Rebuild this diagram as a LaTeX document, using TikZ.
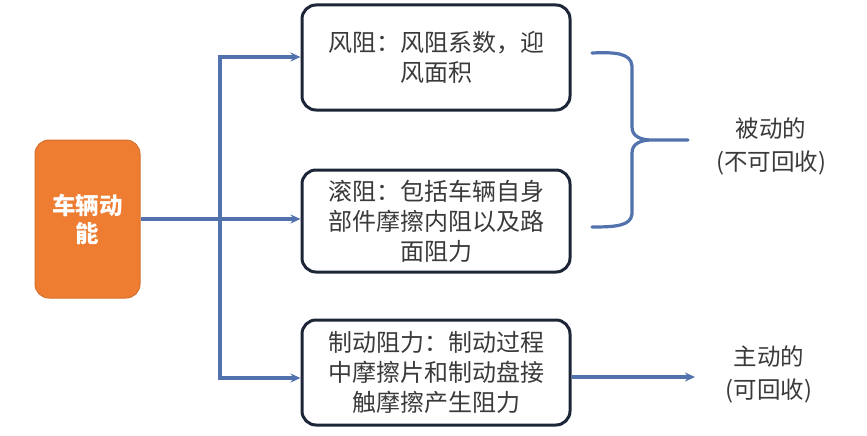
\documentclass[tikz,border=0pt]{standalone}
\usepackage{fontspec}
\setmainfont{Noto Sans CJK SC}
\usetikzlibrary{arrows.meta}
\definecolor{lineblue}{HTML}{5272AE}
\definecolor{boxorange}{HTML}{EE7D32}
\definecolor{navy}{HTML}{1C2638}
\definecolor{txt}{HTML}{3A3A3A}
\begin{document}
\begin{tikzpicture}[x=1pt,y=-1pt,
  srcbox/.style={draw=boxorange!90!black, line width=1pt, fill=boxorange, rounded corners=14pt, minimum width=105pt, minimum height=158pt, inner sep=0pt, align=center, text=white, font=\fontsize{23.5}{28}\selectfont\bfseries},
  resbox/.style={draw=navy, line width=3pt, rounded corners=14pt, minimum width=268pt, inner sep=0pt, align=center, text=txt, font=\fontsize{24}{30}\selectfont},
  conn/.style={draw=lineblue, line width=3.2pt},
  arr/.style={conn, -{Stealth[length=10pt,width=9pt]}},
  lbl/.style={align=center, text=txt, font=\fontsize{23.5}{33}\selectfont}]
\useasboundingbox (0,0) rectangle (867,436);
\node[srcbox] (src) at (87.5,219) {车辆动\\能};
\node[resbox, minimum height=105pt] (b1) at (436,57.5) {风阻：风阻系数，迎\\风面积};
\node[resbox, minimum height=102pt] (b2) at (436,221) {滚阻：包括车辆自身\\部件摩擦内阻以及路\\面阻力};
\node[resbox, minimum height=105pt] (b3) at (436,372.5) {制动阻力：制动过程\\中摩擦片和制动盘接\\触摩擦产生阻力};
\coordinate (vt) at (220,57);
\coordinate (vb) at (220,378);
\draw[conn, line cap=rect] (vt) -- (vb);
\draw[arr] (src.east |- 0,219) -- (b2.west |- 0,219);
\draw[arr] (vt) -- (vt -| b1.west);
\draw[arr] (vb) -- (vb -| b3.west);
\coordinate (aend) at (695,377);
\draw[arr] (aend -| b3.east) -- (aend);
\node[lbl] (passive) at (771,146) {被动的\\(不可回收)};
\node[lbl] (active) at (769,374) {主动的\\(可回收)};
\coordinate (tip) at (688,140);
\draw[conn, line cap=round] (592,53) .. controls (615,52) and (631,53) .. (632,66) -- (632,127) .. controls (632,136) and (640,140) .. (652,140) -- (tip)
  (652,140) .. controls (640,140) and (632,144) .. (632,153) -- (632,214) .. controls (631,226) and (615,227) .. (592,227);
\end{tikzpicture}
\end{document}
